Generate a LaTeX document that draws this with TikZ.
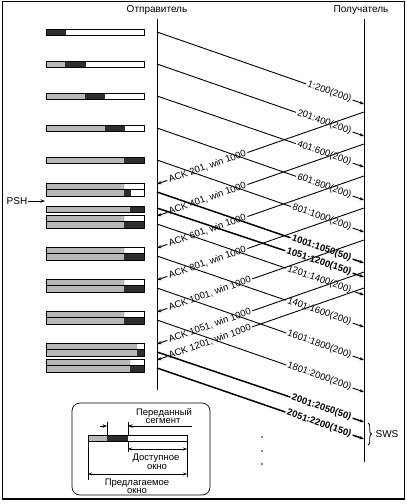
\documentclass[tikz,border=0pt]{standalone}
\usepackage{fontspec}
\setmainfont{Liberation Sans}
\usetikzlibrary{arrows.meta,calc,decorations.pathreplacing}
\newcommand\wbar[3]{%
  \fill[gfill] (46,#1) rectangle (#2,#1+6.5);
  \fill[dfill] (#2,#1) rectangle (#3,#1+6.5);
  \draw[barline] (46,#1) rectangle (144,#1+6.5);}
\newcommand\dataline[5]{%
  \coordinate (s#1) at (157,#2);
  \coordinate (r#1) at (364,#3);
  \path (s#1) -- (r#1) node[pos=0.945, anchor=east, #5lbl] (l#1) {#4};
  \draw[#5seg] (s#1) -- (l#1.west);
  \draw[#5seg, tip] (l#1.east) -- (r#1);}
\newcommand\ackline[4]{%
  \coordinate (ar#1) at (364,#2);
  \coordinate (as#1) at (157,#3);
  \path (as#1) -- (ar#1) node[pos=0.05, anchor=west, lbl] (al#1) {#4};
  \draw[seg, tip] (al#1.west) -- (as#1);
  \draw[seg] (al#1.east) -- (ar#1);}
\begin{document}
\begin{tikzpicture}[x=1pt,y=-1pt,
  gfill/.style={fill=black!28},
  dfill/.style={fill=black!82},
  barline/.style={draw=black, line width=0.8pt},
  lbl/.style={font=\fontsize{9.5}{10}\selectfont, inner sep=1.5pt, sloped},
  blbl/.style={font=\bfseries\fontsize{9.5}{10}\selectfont, inner sep=1.5pt, sloped},
  seg/.style={line width=0.9pt},
  bseg/.style={line width=1.5pt},
  tip/.style={-{Stealth[length=4.5pt,width=3.5pt]}},
  tips/.style={{Stealth[length=4pt,width=3pt]}-{Stealth[length=4pt,width=3pt]}},
  hdr/.style={font=\fontsize{10}{12}\selectfont, inner sep=1pt},
  leg/.style={font=\fontsize{9.5}{10}\selectfont, inner sep=0.5pt}]
\useasboundingbox (0,0) rectangle (407,504);
% frame
\draw[line width=0.8pt] (2,1) rectangle (404,499);
\draw[line width=2pt] (2,499) -- (404,499);
% headers and time lines
\node[hdr] (snd) at (157,10) {Отправитель};
\node[hdr] (rcv) at (361,10) {Получатель};
\coordinate (sndtop) at (157,19);
\coordinate (sndbot) at (157,390);
\coordinate (rcvtop) at (364,19);
\coordinate (rcvbot) at (364,462);
\draw[line width=1pt] (sndtop) -- (sndbot);
\draw[line width=1pt] (rcvtop) -- (rcvbot);
% window bars
\wbar{29}{46}{66}
\wbar{61}{65}{86}
\wbar{93}{85}{105}
\wbar{125}{105}{125}
\wbar{157}{124}{144}
\wbar{183}{124}{124}
\wbar{189.5}{124}{131}
\wbar{206}{130}{144}
\wbar{215}{124}{124}
\wbar{221.5}{124}{144}
\wbar{247}{124}{124}
\wbar{253.5}{124}{144}
\wbar{279}{124}{124}
\wbar{285.5}{124}{144}
\wbar{311}{124}{124}
\wbar{317.5}{124}{144}
\wbar{343}{137}{137}
\wbar{349.5}{137}{144}
\wbar{359}{130}{130}
\wbar{365.5}{130}{144}
% PSH
\node[hdr] (psh) at (17,201) {PSH};
\coordinate (pshend) at (45,201);
\draw[seg, tip] (psh.east) -- (pshend);
% data segments
\dataline{1}{32}{104}{1:200(200)}{}
\dataline{2}{64}{136}{201:400(200)}{}
\dataline{3}{96}{167}{401:600(200)}{}
\dataline{4}{128}{200}{601:800(200)}{}
\dataline{5}{160}{232}{801:1000(200)}{}
\dataline{6}{192}{263}{1001:1050(50)}{b}
\dataline{7}{208}{277}{1051:1200(150)}{b}
\dataline{8}{224}{295}{1201:1400(200)}{}
\dataline{9}{256}{327}{1401:1600(200)}{}
\dataline{10}{288}{360}{1601:1800(200)}{}
\dataline{11}{320}{392}{1801:2000(200)}{}
\dataline{12}{352}{422}{2001:2050(50)}{b}
\dataline{13}{368}{439}{2051:2200(150)}{b}
% acks
\ackline{1}{112}{184}{ACK 201, win 1000}
\ackline{2}{144}{216}{ACK 401, win 1000}
\ackline{3}{176}{248}{ACK 601, win 1000}
\ackline{4}{208}{280}{ACK 801, win 1000}
\ackline{5}{240}{312}{ACK 1001, win 1000}
\ackline{6}{272}{344}{ACK 1051, win 1000}
\ackline{7}{288}{360}{ACK 1201, win 1000}
% SWS
\coordinate (bra) at (368,423);
\coordinate (brb) at (368,445);
\draw[line width=0.8pt, decorate, decoration={brace, amplitude=3.5pt}] (bra) -- (brb);
\node[hdr] (sws) at (387,434) {SWS};
% dots
\fill (262,437) circle (0.9);
\fill (262,451) circle (0.9);
\fill (262,464) circle (0.9);
% legend
\draw[line width=0.7pt, rounded corners=8pt] (72,403) rectangle (210,495);
\fill[gfill] (88,435) rectangle (107,441.5);
\fill[dfill] (107,435) rectangle (128,441.5);
\draw[barline] (88,435) rectangle (187,441.5);
\node[leg] (tseg1) at (164,413) {Переданный};
\node[leg] (tseg2) at (163,420.5) {сегмент};
\draw[line width=0.5pt] (107,422) -- (107,435);
\draw[line width=0.5pt] (128,422) -- (128,435);
\draw[line width=0.5pt, tip] (100,426) -- (107,426);
\draw[line width=0.5pt, tip] (192,426) -- (128,426);
\draw[line width=0.5pt] (128,441.5) -- (128,452);
\draw[line width=0.5pt] (187,441.5) -- (187,477);
\draw[line width=0.5pt] (88,441.5) -- (88,480);
\draw[line width=0.5pt, tips] (128,449) -- (187,449);
\node[leg] (tav1) at (156,458) {Доступное};
\node[leg] (tav2) at (157,466.5) {окно};
\draw[line width=0.5pt, tips] (88,474) -- (187,474);
\node[leg] (tof1) at (137,483) {Предлагаемое};
\node[leg] (tof2) at (137,491) {окно};
\end{tikzpicture}
\end{document}
